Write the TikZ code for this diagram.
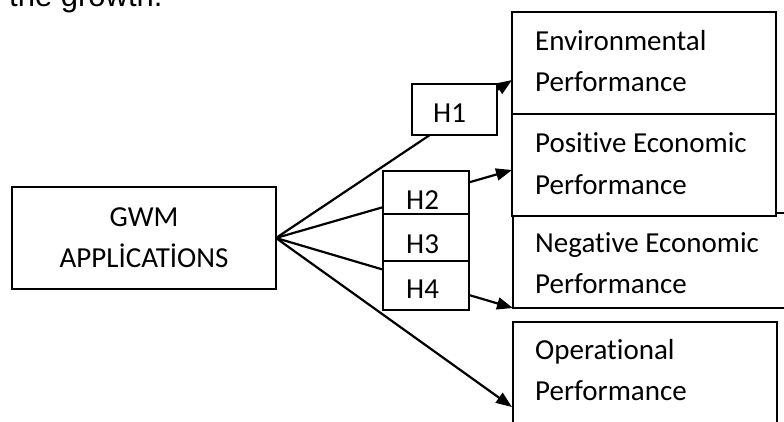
\documentclass[tikz,border=0pt]{standalone}
\usepackage{fontspec}
\setmainfont{Carlito}[Ligatures=NoCommon]
\newfontfamily\headfont{Liberation Sans}
\usetikzlibrary{arrows.meta}
\begin{document}
\begin{tikzpicture}[x=1pt,y=-1pt,
  box/.style={draw, line width=2pt, fill=white, inner sep=0pt, outer sep=0pt, anchor=north west},
  lbl/.style={anchor=base west, inner sep=0pt, align=left, font=\fontsize{29}{41}\selectfont},
  arr/.style={line width=2.2pt, -{Triangle[length=16pt,width=12pt]}}]
\useasboundingbox (0,0) rectangle (784,422);
\clip (0,0) rectangle (784,422);
% header text (cut at the top)
\node[anchor=base west, inner sep=0pt, font=\headfont\fontsize{31}{36}\selectfont] (head) at (9,7) {the growth.};
% source box
\node[box, minimum width=264pt, minimum height=102pt] (gwm) at (12,187) {};
\node[inner sep=0pt, align=center, font=\fontsize{29}{41}\selectfont, anchor=base] (gwmtxt) at (144,267) {GWM\\APPLİCATİONS};
% arrow targets
\coordinate (tenv) at (512,80);
\coordinate (tpos) at (512,170);
\coordinate (tneg) at (513,308);
\coordinate (tops) at (512,407);
\draw[arr] (gwm.east) -- (tenv);
\draw[arr] (gwm.east) -- (tpos);
\draw[arr] (gwm.east) -- (tneg);
\draw[arr] (gwm.east) -- (tops);
% hypothesis boxes
\node[box, minimum width=85pt, minimum height=51pt] (h1) at (412,84) {};
\node[box, minimum width=86pt, minimum height=43pt] (h2) at (383,171) {};
\node[box, minimum width=86pt, minimum height=47pt] (h3) at (383,214) {};
\node[box, minimum width=86pt, minimum height=49pt] (h4) at (383,261) {};
\node[lbl] (h1t) at (433,123) {H1};
\node[lbl] (h2t) at (406,210) {H2};
\node[lbl] (h3t) at (406,253) {H3};
\node[lbl] (h4t) at (406,298) {H4};
% outcome boxes
\node[box, minimum width=290pt, minimum height=95pt] (neg) at (513,213) {};
\node[box, minimum width=264pt, minimum height=102pt] (pos) at (512,114) {};
\node[box, minimum width=264pt, minimum height=102pt] (env) at (512,12) {};
\node[box, minimum width=264pt, minimum height=130pt] (ops) at (513,322) {};
\node[lbl] (envt) at (535,92) {Environmental\\Performance};
\node[lbl] (post) at (535,194) {Positive Economic\\Performance};
\node[lbl] (negt) at (535,293) {Negative Economic\\Performance};
\node[lbl] (opst) at (535,400) {Operational\\Performance};
\end{tikzpicture}
\end{document}
